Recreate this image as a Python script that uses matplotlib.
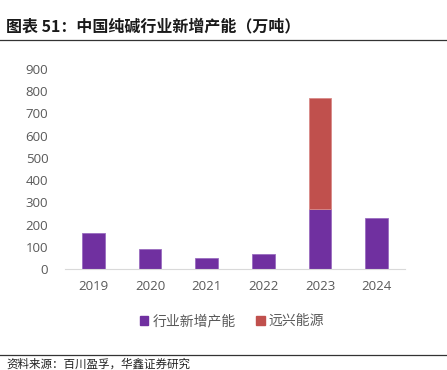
import matplotlib
matplotlib.use("Agg")
import matplotlib.pyplot as plt
from matplotlib.patches import Patch
from matplotlib.lines import Line2D

plt.rcParams['font.family'] = ['Noto Sans CJK SC', 'DejaVu Sans']

years = ['2019', '2020', '2021', '2022', '2023', '2024']
industry_new = [163, 90, 50, 68, 268, 230]
yuanxing = [0, 0, 0, 0, 502, 0]
yticks = [0, 100, 200, 300, 400, 500, 600, 700, 800, 900]

purple = '#7030A0'
red = '#C0504D'
gray = '#595959'

fig = plt.figure(figsize=(4.47, 3.70), dpi=100)
W, H = 447, 370

# title and rules
fig.text(6 / W, 1 - 26 / H, '图表 51：中国纯碱行业新增产能（万吨）', fontsize=11.5,
         fontweight='bold', color='#1a1a1a', va='center', ha='left')
fig.add_artist(Line2D([0, 1], [1 - 40 / H, 1 - 40 / H], color='#333333', lw=0.9))
fig.add_artist(Line2D([0, 1], [1 - 355 / H, 1 - 355 / H], color='#333333', lw=0.9))
fig.text(6 / W, 1 - 364 / H, '资料来源：百川盈孚，华鑫证券研究', fontsize=8.3,
         color='#222222', va='center', ha='left')

ax = fig.add_axes([65 / W, 1 - 269 / H, 340 / W, 200 / H])
x = range(len(years))
ax.bar(x, industry_new, width=0.4, color=purple, edgecolor='#9A6CC0', linewidth=0.6,
       label='行业新增产能')
red_edges = ['#D88A88' if v > 0 else 'none' for v in yuanxing]
ax.bar(x, yuanxing, width=0.4, bottom=industry_new, color=red, edgecolor=red_edges,
       linewidth=0.6, label='远兴能源')

ax.set_xlim(-0.5, len(years) - 0.5)
ax.set_ylim(0, 900)
ax.set_yticks(yticks)
ax.set_xticks(list(x))
ax.set_xticklabels(years)
for s in ['top', 'right', 'left']:
    ax.spines[s].set_visible(False)
ax.spines['bottom'].set_color('#D9D9D9')
ax.tick_params(axis='both', length=0, colors=gray, labelsize=9.5)
ax.tick_params(axis='y', pad=12)
ax.tick_params(axis='x', pad=8)
for lab in ax.get_xticklabels() + ax.get_yticklabels():
    lab.set_fontfamily(['Open Sans', 'DejaVu Sans'])

handles = [Patch(color=purple), Patch(color=red)]
fig.legend(handles, ['行业新增产能', '远兴能源'], loc='center',
           bbox_to_anchor=(232 / W, 1 - 321 / H), ncol=2, frameon=False,
           fontsize=10, handlelength=0.6, handleheight=0.6, handletextpad=0.3,
           columnspacing=1.5, labelcolor=gray)

fig.savefig('out.png', dpi=100)
